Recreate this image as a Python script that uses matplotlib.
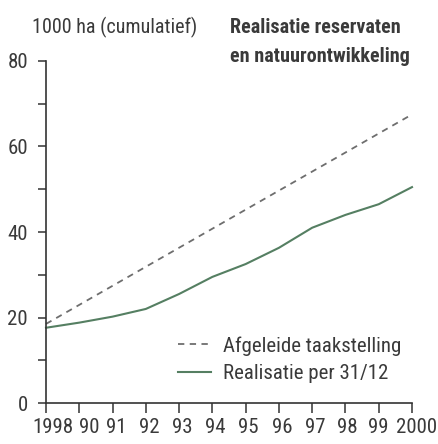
"""
Realisatie reservaten en natuurontwikkeling (1000 ha, cumulatief)
"""

import matplotlib
matplotlib.use('Agg')
import matplotlib.pyplot as plt
import matplotlib.transforms as mtransforms
from matplotlib.ticker import MultipleLocator

#---------------------------------------------------------------------------------------------------
# Data
#---------------------------------------------------------------------------------------------------

years = [1989, 1990, 1991, 1992, 1993, 1994, 1995, 1996, 1997, 1998, 1999, 2000]
year_labels = ['1998', '90', '91', '92', '93', '94', '95', '96', '97', '98', '99', '2000']

# Realisatie per 31/12 (1000 ha)
realisatie = [17.6, 18.8, 20.2, 22.0, 25.5, 29.5, 32.5, 36.3, 41.0, 44.0, 46.5, 50.5]

# Afgeleide taakstelling (1000 ha), straight line
taak_years = [1989, 2000]
taakstelling = [18.5, 67.5]

#---------------------------------------------------------------------------------------------------
# Plot
#---------------------------------------------------------------------------------------------------

plt.rcParams['font.family'] = ['Roboto Condensed', 'Roboto', 'DejaVu Sans']
text_col = '#3a3a3a'
fs = 14.5

fig = plt.figure(figsize=(4.39, 4.44), dpi=100)
ax = fig.add_axes([46 / 439, 1 - 403 / 444, (412 - 46) / 439, (403 - 61) / 444])

ax.plot(taak_years, taakstelling, color='#6e6e6e', lw=1.3, dashes=(3.5, 3),
        label='Afgeleide taakstelling')
ax.plot(years, realisatie, color='#557f62', lw=1.5, label='Realisatie per 31/12')

ax.set_xlim(years[0], years[-1])
ax.set_ylim(0, 80)
ax.set_xticks(years)
ax.set_xticklabels(year_labels)
ax.yaxis.set_major_locator(MultipleLocator(20))
ax.yaxis.set_minor_locator(MultipleLocator(10))

for side in ['top', 'right']:
    ax.spines[side].set_visible(False)
for side in ['left', 'bottom']:
    ax.spines[side].set_color('#333333')
    ax.spines[side].set_linewidth(1.2)

ax.tick_params(axis='both', which='both', direction='out', color='#333333', width=1.1,
               labelsize=15, labelcolor=text_col)
ax.tick_params(axis='y', which='both', length=6, pad=7)
ax.tick_params(axis='x', which='major', length=7, pad=4)

# nudge crowded year labels, like the original
shifts = [7, 10, 4, 3, 3, 3, 3, 3, 3, 2, 0, 5]
for lab, dx in zip(ax.get_xticklabels(), shifts):
    lab.set_transform(lab.get_transform() +
                      mtransforms.ScaledTranslation(dx / 100, 0, fig.dpi_scale_trans))

for ln in ax.lines:
    ln.set_clip_on(False)

fig.text(32 / 439, 1 - 27 / 444, '1000 ha (cumulatief)', fontsize=fs, color=text_col,
         ha='left', va='center')
fig.text(230 / 439, 1 - 42 / 444, 'Realisatie reservaten\nen natuurontwikkeling',
         fontsize=fs, fontweight='bold', color=text_col, ha='left', va='center',
         linespacing=1.72)

leg = ax.legend(loc='upper left', bbox_to_anchor=(178 / 439, 1 - 336 / 444),
                bbox_transform=fig.transFigure, frameon=False, fontsize=15,
                handlelength=1.6, handletextpad=0.55, labelspacing=0.4, borderpad=0,
                borderaxespad=0)
for t in leg.get_texts():
    t.set_color(text_col)

plt.savefig('out.png', dpi=100)
